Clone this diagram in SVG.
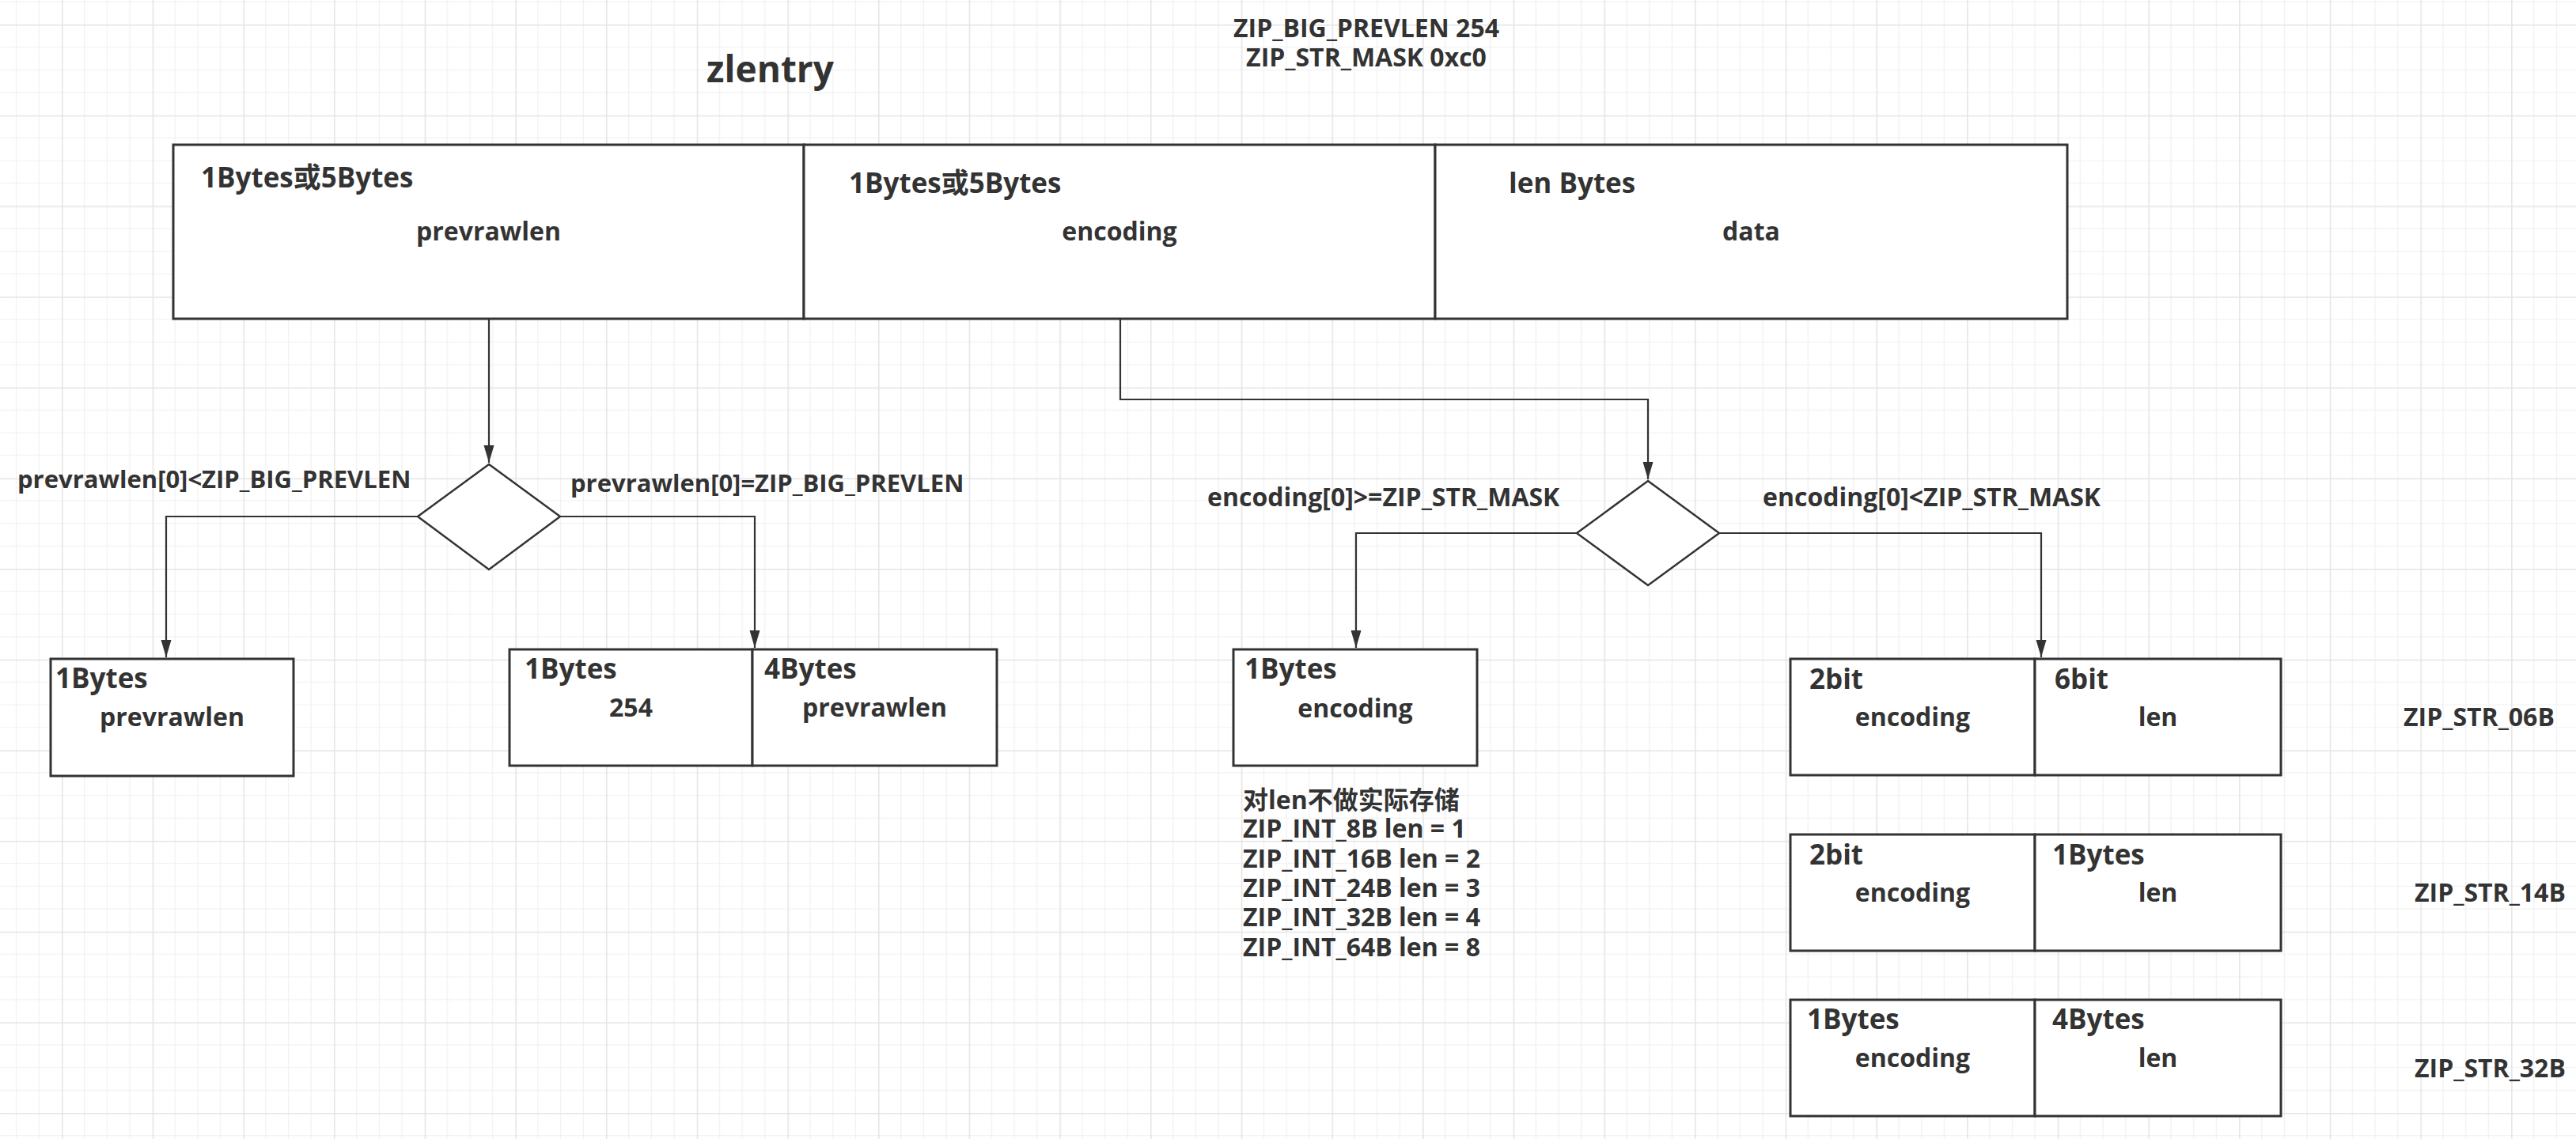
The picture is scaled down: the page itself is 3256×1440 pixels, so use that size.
<svg xmlns="http://www.w3.org/2000/svg" width="3256" height="1440" viewBox="0 0 3256 1440">
<style>
text{font-family:"Open Sans","Noto Sans CJK SC",sans-serif;font-weight:bold;fill:#333;}
.t32{font-size:32px;}
.t31{font-size:31px;}
.t35{font-size:35px;}
.title{font-size:46px;}
.mid{text-anchor:middle;}
.box{fill:#fff;stroke:#333;stroke-width:3;}
.dia{fill:#fff;stroke:#333;stroke-width:2.5;}
.conn{fill:none;stroke:#333;stroke-width:2.2;}
</style>
<defs>
<pattern id="grid" x="78" y="31" width="114.67" height="114.67" patternUnits="userSpaceOnUse">
<path d="M28.67,0V114.67M57.33,0V114.67M86,0V114.67M0,28.67H114.67M0,57.33H114.67M0,86H114.67" stroke="#f0f0f0" stroke-width="1.2" fill="none"/>
<path d="M0.75,0V114.67M0,0.75H114.67" stroke="#e4e4e4" stroke-width="1.5" fill="none"/>
</pattern>
<marker id="arr" markerUnits="userSpaceOnUse" markerWidth="24" markerHeight="14" refX="22" refY="6.5" orient="auto">
<path d="M0,0L22,6.5L0,13z" fill="#333"/>
</marker>
</defs>
<rect width="3256" height="1440" fill="#fff"/>
<rect width="3256" height="1440" fill="url(#grid)"/>

<g id="title"><text class="title" x="893" y="104">zlentry</text></g>
<g id="consts">
<text class="t32 mid" x="1727" y="47">ZIP_BIG_PREVLEN 254</text>
<text class="t32 mid" x="1727" y="84">ZIP_STR_MASK 0xc0</text>
</g>

<g id="connectors">
<path class="conn" d="M618,403V585" marker-end="url(#arr)"/>
<path class="conn" d="M528,653H210V831" marker-end="url(#arr)"/>
<path class="conn" d="M708,653H954V819" marker-end="url(#arr)"/>
<path class="conn" d="M1416,403V505H2083V606" marker-end="url(#arr)"/>
<path class="conn" d="M1993,674H1714V819" marker-end="url(#arr)"/>
<path class="conn" d="M2173,674H2580V831" marker-end="url(#arr)"/>
</g>

<g id="prevrawlen-main">
<rect class="box" x="219" y="183" width="797" height="220"/>
<text class="t35" x="254" y="237">1Bytes或5Bytes</text>
<text class="t32 mid" x="617.5" y="304">prevrawlen</text>
</g>
<g id="encoding-main">
<rect class="box" x="1016" y="183" width="798" height="220"/>
<text class="t35" x="1073" y="244">1Bytes或5Bytes</text>
<text class="t32 mid" x="1415" y="304">encoding</text>
</g>
<g id="data-main">
<rect class="box" x="1814" y="183" width="799" height="220"/>
<text class="t35" x="1907" y="244">len Bytes</text>
<text class="t32 mid" x="2213.5" y="304">data</text>
</g>

<g id="decision-prev">
<polygon class="dia" points="618,587 708,653 618,720 528,653"/>
</g>
<g id="label-prev-lt"><text class="t31" x="22" y="617">prevrawlen[0]&lt;ZIP_BIG_PREVLEN</text></g>
<g id="label-prev-eq"><text class="t31" x="721" y="622">prevrawlen[0]=ZIP_BIG_PREVLEN</text></g>

<g id="prev-1byte">
<rect class="box" x="64" y="833" width="307" height="148"/>
<text class="t35" x="70" y="870">1Bytes</text>
<text class="t32 mid" x="217.5" y="918">prevrawlen</text>
</g>
<g id="prev-5byte-a">
<rect class="box" x="644" y="821" width="307" height="147"/>
<text class="t35" x="663" y="858">1Bytes</text>
<text class="t32 mid" x="797.5" y="906">254</text>
</g>
<g id="prev-5byte-b">
<rect class="box" x="951" y="821" width="309" height="147"/>
<text class="t35" x="966" y="858">4Bytes</text>
<text class="t32 mid" x="1105.5" y="906">prevrawlen</text>
</g>

<g id="decision-enc">
<polygon class="dia" points="2083,608 2173,674 2083,740 1993,674"/>
</g>
<g id="label-enc-ge"><text class="t32" x="1526" y="640">encoding[0]&gt;=ZIP_STR_MASK</text></g>
<g id="label-enc-lt"><text class="t32" x="2228" y="640">encoding[0]&lt;ZIP_STR_MASK</text></g>

<g id="enc-int">
<rect class="box" x="1559" y="821" width="308" height="147"/>
<text class="t35" x="1573" y="858">1Bytes</text>
<text class="t32 mid" x="1713" y="907">encoding</text>
</g>
<g id="enc-int-note">
<text class="t32" x="1571" y="1023"><tspan x="1571" y="1023">对len不做实际存储</tspan><tspan x="1571" y="1059">ZIP_INT_8B len = 1</tspan><tspan x="1571" y="1097">ZIP_INT_16B len = 2</tspan><tspan x="1571" y="1134">ZIP_INT_24B len = 3</tspan><tspan x="1571" y="1171">ZIP_INT_32B len = 4</tspan><tspan x="1571" y="1209">ZIP_INT_64B len = 8</tspan></text>
</g>

<g id="str06-enc">
<rect class="box" x="2263" y="833" width="309" height="147"/>
<text class="t35" x="2287" y="871">2bit</text>
<text class="t32 mid" x="2417.5" y="918">encoding</text>
</g>
<g id="str06-len">
<rect class="box" x="2572" y="833" width="311" height="147"/>
<text class="t35" x="2597" y="871">6bit</text>
<text class="t32 mid" x="2727.5" y="918">len</text>
</g>
<g id="str06-label"><text class="t32" x="3038" y="918">ZIP_STR_06B</text></g>

<g id="str14-enc">
<rect class="box" x="2263" y="1055" width="309" height="147"/>
<text class="t35" x="2287" y="1093">2bit</text>
<text class="t32 mid" x="2417.5" y="1140">encoding</text>
</g>
<g id="str14-len">
<rect class="box" x="2572" y="1055" width="311" height="147"/>
<text class="t35" x="2594" y="1093">1Bytes</text>
<text class="t32 mid" x="2727.5" y="1140">len</text>
</g>
<g id="str14-label"><text class="t32" x="3052" y="1140">ZIP_STR_14B</text></g>

<g id="str32-enc">
<rect class="box" x="2263" y="1264" width="309" height="147"/>
<text class="t35" x="2284" y="1301">1Bytes</text>
<text class="t32 mid" x="2417.5" y="1349">encoding</text>
</g>
<g id="str32-len">
<rect class="box" x="2572" y="1264" width="311" height="147"/>
<text class="t35" x="2594" y="1301">4Bytes</text>
<text class="t32 mid" x="2727.5" y="1349">len</text>
</g>
<g id="str32-label"><text class="t32" x="3052" y="1362">ZIP_STR_32B</text></g>
</svg>
